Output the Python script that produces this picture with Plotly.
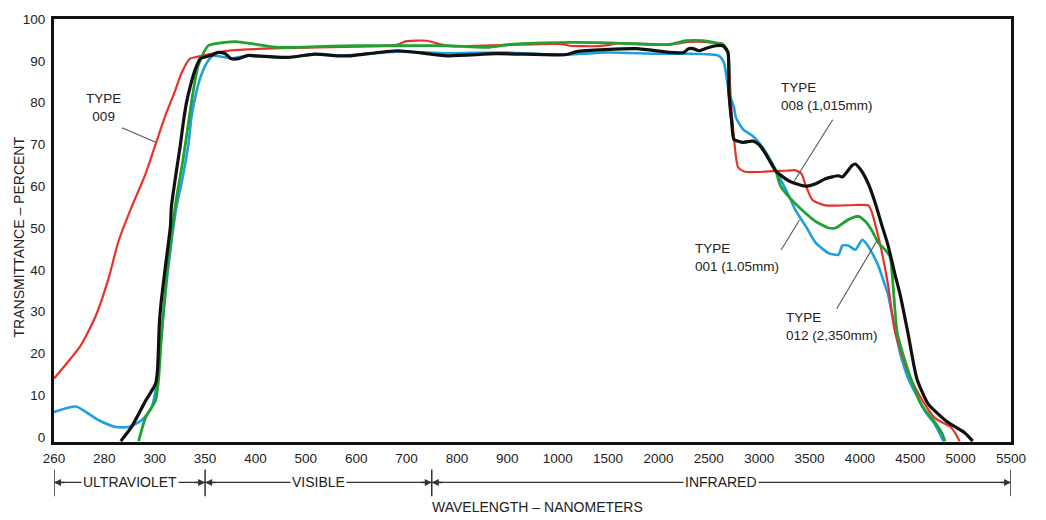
import numpy as np
import plotly.graph_objects as go

# ---- axis (non-uniform wavelength scale: ticks evenly spaced) ----
TICK_WL = [260, 280, 300, 350, 400, 500, 600, 700, 800, 900, 1000,
           1500, 2000, 2500, 3000, 3500, 4000, 4500, 5000, 5500]
TICK_LABELS = [str(v) for v in TICK_WL]
Y_TICKS = [0, 10, 20, 30, 40, 50, 60, 70, 80, 90, 100]

REGIONS = [("ULTRAVIOLET", 260, 350), ("VISIBLE", 350, 750), ("INFRARED", 750, 5500)]

# ---- series (wavelength nm, transmittance %) ----
red_wl = [260, 270.7, 276.6, 281.7, 285.7, 290.8, 296.4, 300.8, 310.7, 320.5, 326.5,
          335, 343, 376, 450, 600, 680, 700, 740, 765, 790, 900, 1050, 1120, 1400, 1515,
          1600, 2100, 2300, 2450, 2600, 2660, 2690, 2720, 2750, 2790, 2850, 2995, 3150,
          3265, 3360, 3420, 3450, 3530, 3660, 3955, 4085, 4122, 4182, 4220, 4280, 4350,
          4470, 4545, 4640, 4745, 4895, 4945, 4990]
red_val = [14, 22, 29, 38, 47, 55, 63, 70, 77, 83, 87,
           90.5, 91, 92.5, 93, 93.4, 93.8, 94.7, 94.8, 94.0, 93.5, 93.8, 94.0, 93.6, 93.5, 93.8,
           94.2, 93.9, 94.5, 94.5, 94.0, 93.5, 92, 80, 71.5, 64.6, 63.5, 63.4, 63.6,
           63.7, 63.8, 63, 61, 56.7, 55.4, 55.5, 55.4, 53.5, 48, 44, 36.3, 25,
           16, 12, 8, 4.5, 2.5, 1, -1]

black_wl = [286.5, 290.8, 296.4, 300.8, 302.7, 304.7, 306.7, 310.7, 315.6, 316.5, 320.5,
            325.5, 328.5, 331.5, 335.4, 340.3, 345.3, 356, 363, 370, 376, 383, 392.7,
            399.6, 464, 518, 563, 589, 682, 781, 879, 1089, 1188, 1780, 2107, 2250, 2300,
            2344, 2404, 2500, 2571, 2640, 2690, 2700, 2730, 2750, 2840, 2937, 2996, 3066,
            3164, 3293, 3461, 3560, 3659, 3787, 3826, 3925, 3954, 4023, 4083, 4152, 4220,
            4280, 4350, 4400, 4480, 4565, 4675, 4800, 4874, 5040, 5120]
black_val = [-1, 2.4, 8.7, 12.7, 15.8, 27.6, 33, 41, 50.5, 55, 62,
             70, 75.5, 80, 84, 88, 90.5, 91.3, 92, 91.7, 90.5, 90.5, 91.3,
             91.2, 90.8, 91.6, 91.2, 91.2, 92.4, 91.2, 91.7, 91.5, 92.2, 92.9, 92, 92, 92.9,
             92.9, 92.4, 93.2, 93.6, 93.6, 92, 82.5, 74.8, 71.2, 70.5, 70.8, 70, 67.7,
             63.7, 61.3, 60, 60.6, 61.8, 62.5, 62.2, 65, 65.3, 63.4, 60.6, 56, 50.5,
             45.8, 38.7, 34, 24.5, 14, 8, 5, 3.5, 1, -1]

blue_wl = [260, 268.7, 272.6, 277.8, 284.5, 289.6, 294.8, 298.7, 303.7, 306.7, 311.7,
           316.5, 321.5, 326.5, 333.4, 336.4, 341.3, 346.2, 353, 358, 376, 392.7, 464, 518,
           563, 682, 781, 893, 1000, 1500, 1980, 2275, 2600, 2650, 2700, 2750, 2770, 2840,
           2937, 3035, 3134, 3193, 3283, 3362, 3461, 3560, 3689, 3787, 3826, 3885, 3954,
           4023, 4073, 4122, 4182, 4230, 4280, 4330, 4400, 4480, 4575, 4650, 4745, 4830]
blue_val = [6, 7.3, 6, 4, 2.4, 2.4, 4, 7, 15.8, 25, 37,
            46.5, 55, 60.6, 70, 76.4, 82.5, 86.6, 90, 91.2, 90.6, 91.2, 90.8, 91.6,
            91.2, 92.2, 91.8, 92.0, 91.4, 92.0, 91.7, 91.7, 91.2, 89.6, 82.5, 78.8, 76.4, 73.6,
            72, 69.3, 65.3, 62.5, 58.3, 54.2, 50.5, 46.5, 44, 43.6, 45.8, 45.8, 44.8,
            47.2, 46, 44, 41, 37.7, 34, 28, 20, 14, 9.4, 6, 3, -1]

green_wl = [293.6, 296.4, 300.8, 303.7, 306.7, 311.7, 316.5, 321.5, 328.5, 333.4, 338.4,
            343.3, 353, 370, 380, 399.6, 445, 549, 603, 696, 781, 860, 905, 1120, 1515,
            2107, 2275, 2445, 2571, 2640, 2690, 2700, 2730, 2750, 2840, 2937, 2996, 3066,
            3164, 3213, 3293, 3431, 3560, 3689, 3757, 3885, 3985, 4053, 4122, 4182, 4250,
            4300, 4330, 4370, 4450, 4520, 4615, 4745, 4813, 4845]
green_val = [-1, 4.7, 8.7, 13.4, 24, 38, 48, 57, 67, 75, 83,
             89, 93.6, 94.4, 94.6, 94, 93.2, 93.5, 93.6, 93.6, 93.6, 93.2, 93.9, 94.4, 94.3,
             93.9, 94.8, 94.8, 94.3, 94, 92, 82.5, 74.8, 71.2, 70.5, 70.8, 70, 67.7,
             63.7, 60, 57.5, 54.2, 51.6, 50, 50, 52, 52.8, 51.6, 49.3, 46.5, 44.8,
             43, 36, 25, 18, 13, 7.5, 3.5, 1, -1]

SERIES = [
    ("Type 001 (1.05mm)", blue_wl, blue_val, "#1e9fe0", 2.6),
    ("Type 009", red_wl, red_val, "#e8312b", 2.2),
    ("Type 008 (1,015mm)", green_wl, green_val, "#22a032", 2.8),
    ("Type 012 (2,350mm)", black_wl, black_val, "#111111", 3.2),
]

TICK_POS = np.arange(len(TICK_WL), dtype=float)


def pos(wl):
    return np.interp(np.asarray(wl, dtype=float), TICK_WL, TICK_POS)


FONT = "Liberation Sans, Arial, sans-serif"
TXT = "#222222"

fig = go.Figure()
for name, wl, val, color, w in SERIES:
    fig.add_trace(go.Scatter(x=pos(wl), y=val, mode="lines", name=name,
                             line=dict(color=color, width=w, shape="spline", smoothing=0.6),
                             hoverinfo="name+y"))

fig.update_layout(
    width=1046, height=520,
    margin=dict(l=54, r=35, t=13, b=78),
    plot_bgcolor="white", paper_bgcolor="white",
    showlegend=False,
    font=dict(family=FONT, size=13.5, color=TXT),
    xaxis=dict(range=[0, 19], tickvals=TICK_POS, ticktext=TICK_LABELS, showgrid=False,
               zeroline=False, showline=True, linecolor="#111", linewidth=2.5, mirror=True,
               ticks="", ticklabelstandoff=2, tickfont=dict(size=13.5, family=FONT, color=TXT)),
    yaxis=dict(range=[-1.2, 100], tickvals=Y_TICKS, showgrid=False, zeroline=False,
               showline=True, linecolor="#111", linewidth=3, mirror=True,
               ticks="", ticklabelstandoff=3, tickfont=dict(size=13.5, family=FONT, color=TXT)),
)

# axis titles
fig.add_annotation(text="TRANSMITTANCE \u2013 PERCENT", xref="paper", yref="paper",
                   x=-0.037, y=0.485, textangle=-90, showarrow=False,
                   xanchor="center", yanchor="middle",
                   font=dict(size=14, family=FONT, color=TXT))
fig.add_annotation(text="WAVELENGTH \u2013 NANOMETERS", xref="paper", yref="paper",
                   x=0.505, y=-0.154, showarrow=False, xanchor="center", yanchor="middle",
                   font=dict(size=14, family=FONT, color=TXT))

# spectral region markers below the axis
Y_BAR = -0.0956
for label, a, b in REGIONS:
    pa, pb = float(pos(a)), float(pos(b))
    fig.add_shape(type="line", xref="x", yref="paper", x0=pa, x1=pb, y0=Y_BAR, y1=Y_BAR,
                  line=dict(color="#333", width=1.2))
    fig.add_annotation(text=label, xref="x", yref="paper", x=(pa + pb) / 2, y=Y_BAR,
                       showarrow=False, bgcolor="white", borderpad=1,
                       xanchor="center", yanchor="middle",
                       font=dict(size=14, family=FONT, color=TXT))
    fig.add_annotation(text="", xref="x", yref="paper", x=pa, y=Y_BAR, ax=12, ay=0,
                       showarrow=True, arrowhead=2, arrowsize=1, arrowwidth=1.4,
                       arrowcolor="#333")
    fig.add_annotation(text="", xref="x", yref="paper", x=pb, y=Y_BAR, ax=-12, ay=0,
                       showarrow=True, arrowhead=2, arrowsize=1, arrowwidth=1.4,
                       arrowcolor="#333")
for b in sorted({r[1] for r in REGIONS} | {r[2] for r in REGIONS}):
    pb = float(pos(b))
    fig.add_shape(type="line", xref="x", yref="paper", x0=pb, x1=pb, y0=-0.065, y1=-0.128,
                  line=dict(color="#333", width=1.5))

# curve labels with leader lines
LABELS = [
    ("TYPE<br>009", 0.99, 78.8, "center", (1.35, 74.0, 2.02, 70.5)),
    ("TYPE<br>008 (1,015mm)", 14.4, 81.5, "left", (15.46, 75.9, 14.7, 61.3)),
    ("TYPE<br>001 (1.05mm)", 12.68, 42.9, "left", (14.44, 44.8, 14.8, 51.9)),
    ("TYPE<br>012 (2,350mm)", 14.5, 26.4, "left", (15.54, 30.7, 16.35, 47.2)),
]
for text, x, y, anchor, (x0, y0, x1, y1) in LABELS:
    fig.add_annotation(text=text, x=x, y=y, xref="x", yref="y", showarrow=False,
                       xanchor=anchor, yanchor="middle", align=anchor,
                       font=dict(size=13.5, family=FONT, color=TXT))
    fig.add_shape(type="line", xref="x", yref="y", x0=x0, y0=y0, x1=x1, y1=y1,
                  line=dict(color="#555", width=1.1))

fig.write_html("out.html")
